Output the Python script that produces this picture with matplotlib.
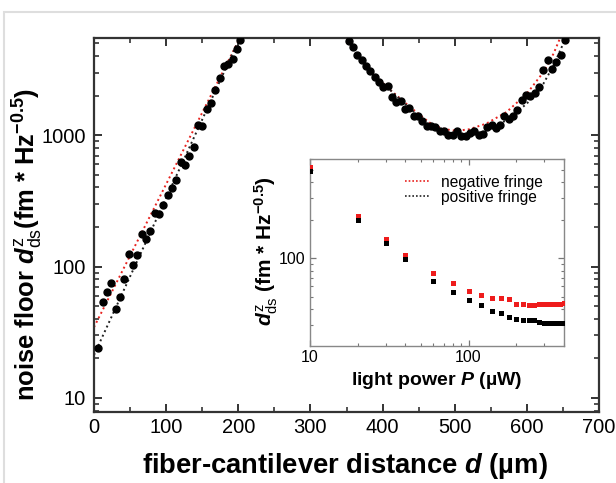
import matplotlib
matplotlib.use("Agg")
import matplotlib.pyplot as plt
from matplotlib.lines import Line2D
from matplotlib.patches import Rectangle
from matplotlib.ticker import LogLocator, NullFormatter, FixedLocator, FixedFormatter, MultipleLocator

plt.rcParams['font.family'] = ['Liberation Sans', 'DejaVu Sans']
plt.rcParams['mathtext.fontset'] = 'custom'
plt.rcParams['mathtext.rm'] = 'Liberation Sans'
plt.rcParams['mathtext.it'] = 'Liberation Sans:italic:bold'
plt.rcParams['mathtext.bf'] = 'Liberation Sans:bold'

# ---- noise floor vs fiber-cantilever distance (measured points) ----
d_left = [5, 12, 18, 24, 30, 36, 42, 48, 54, 60, 66, 72, 78, 84, 90, 96, 102, 108,
          114, 120, 126, 132, 138, 144, 150, 156, 162, 168, 174, 180, 186, 192, 198, 203]
nf_left = [23.9, 54.1, 64, 75.3, 47.5, 58.4, 80.4, 124, 102, 122, 178, 162, 185, 256,
           249, 292, 348, 397, 453, 624, 589, 692, 815, 1206, 1170, 1597, 1763, 2229,
           2730, 3350, 3510, 3830, 4560, 5350]

d_right = [353, 359, 365, 371, 377, 383, 389, 395, 401, 407, 413, 419, 425, 431, 437,
           443, 449, 455, 461, 467, 473, 479, 485, 491, 497, 503, 509, 515, 521, 527,
           533, 539, 545, 551, 557, 563, 569, 575, 581, 587, 593, 599, 605, 611, 617,
           623, 629, 635, 641, 647, 653]
nf_right = [5190, 4690, 4110, 3720, 3390, 3070, 2775, 2530, 2317, 2388, 1945, 1783, 1836,
            1585, 1613, 1412, 1412, 1277, 1185, 1185, 1157, 1086, 1086, 1000, 1000, 1072,
            983, 983, 1041, 1072, 1012, 1030, 1157, 1206, 1137, 1206, 1412, 1331, 1412,
            1549, 1866, 2040, 1980, 2100, 2330, 3160, 3720, 3190, 3590, 4110, 5350]

# ---- fitted curves (negative / positive fringe) ----
neg_left_d = [0, 205]
neg_left_v = [34.5, 5900]
pos_left_d = [0, 205]
pos_left_v = [21.2, 5980]

neg_right_d = [348, 364, 383, 406, 438, 455, 470, 487, 503, 520, 544, 572, 600, 623, 637, 649]
neg_right_v = [5700, 4180, 3120, 2330, 1642, 1380, 1191, 1110, 1079, 1110, 1227, 1504,
               2074, 3025, 4180, 6000]
pos_right_d = [348, 364, 383, 406, 438, 470, 490, 510, 530, 544, 572, 600, 623, 637, 657]
pos_right_v = [5700, 4180, 3120, 2330, 1600, 1116, 1028, 1000, 1020, 1085, 1302, 1741,
               2472, 3404, 6000]

# ---- inset: noise floor vs light power ----
power = [10, 20, 30, 40, 60, 80, 100, 120, 140, 160, 180, 200, 220, 240, 260, 280,
         300, 320, 340, 360, 380, 400]
nf_neg = [521, 216, 142, 107, 76, 64.4, 55.6, 51.7, 48.6, 48.6, 47.5, 43.6, 43.6, 42.6,
          42.6, 43.6, 43.6, 43.6, 43.6, 43.6, 43.6, 44.7]
nf_pos = [490, 200, 131, 99, 66.7, 54.6, 46.7, 42.8, 38.7, 36.9, 34.7, 33.4, 32.6, 32.6,
          32.6, 31.7, 30.7, 30.7, 30.7, 30.7, 30.7, 30.7]

W, H = 616, 483
fig = plt.figure(figsize=(W / 100, H / 100), dpi=100)

# light frame around the figure
fig.patches.append(Rectangle((4 / W, -0.1), 1.2, 1.1 - 12 / H, transform=fig.transFigure,
                             fill=False, edgecolor='#dedede', linewidth=1.5))

ax = fig.add_axes([94 / W, 1 - 412 / H, (599 - 94) / W, (412 - 38) / H])
dot = (0, (1, 1.6))
ax.plot(neg_left_d, neg_left_v, color='#e8231f', ls=dot, lw=1.4, zorder=2)
ax.plot(pos_left_d, pos_left_v, color='#222222', ls=dot, lw=1.4, zorder=2)
ax.plot(neg_right_d, neg_right_v, color='#e8231f', ls=dot, lw=1.4, zorder=2)
ax.plot(pos_right_d, pos_right_v, color='#222222', ls=dot, lw=1.4, zorder=2)
ax.plot(d_left, nf_left, 'o', color='black', ms=5, zorder=3)
ax.plot(d_right, nf_right, 'o', color='black', ms=5, zorder=3)

ax.set_yscale('log')
ax.set_xlim(0, 700)
ax.set_ylim(7.8, 5500)
ax.xaxis.set_major_locator(MultipleLocator(100))
ax.xaxis.set_minor_locator(MultipleLocator(50))
ax.yaxis.set_major_locator(FixedLocator([10, 100, 1000]))
ax.yaxis.set_major_formatter(FixedFormatter(['10', '100', '1000']))
ax.yaxis.set_minor_locator(LogLocator(base=10, subs=range(2, 10)))
ax.yaxis.set_minor_formatter(NullFormatter())
for s in ax.spines.values():
    s.set_linewidth(1.6)
    s.set_color('#333333')
ax.tick_params(which='both', direction='in', top=True, right=True, color='#333333')
ax.tick_params(which='major', length=6, width=1.4, labelsize=14.5, pad=4)
ax.tick_params(which='minor', length=3.5, width=1.2)
ax.tick_params(axis='y', which='major', pad=6)

ax.set_xlabel(r'fiber-cantilever distance $d$ (µm)', fontsize=19.7, fontweight='bold')
ax.xaxis.set_label_coords(0.497, -0.105)
ax.set_ylabel(r'noise floor $d^{\mathrm{z}}_{\mathrm{ds}}$(fm * Hz$^{\mathbf{-0.5}}$)',
              fontsize=18.4, fontweight='bold')
ax.yaxis.set_label_coords(-0.097, 0.449)

# inset
ins = fig.add_axes([310 / W, 1 - 346 / H, (564 - 310) / W, (346 - 159) / H])
ins.plot(power, nf_neg, 's', color='#ee1c1c', ms=3.6, mew=0, zorder=3)
ins.plot(power, nf_pos, 's', color='black', ms=3.6, mew=0, zorder=4)
ins.set_xscale('log')
ins.set_yscale('log')
ins.set_xlim(10, 400)
ins.set_ylim(20.4, 605)
ins.xaxis.set_major_locator(FixedLocator([10, 100]))
ins.xaxis.set_major_formatter(FixedFormatter(['10', '100']))
ins.xaxis.set_minor_locator(LogLocator(base=10, subs=range(2, 10)))
ins.xaxis.set_minor_formatter(NullFormatter())
ins.yaxis.set_major_locator(FixedLocator([100]))
ins.yaxis.set_major_formatter(FixedFormatter(['100']))
ins.yaxis.set_minor_locator(LogLocator(base=10, subs=range(2, 10)))
ins.yaxis.set_minor_formatter(NullFormatter())
for s in ins.spines.values():
    s.set_linewidth(1.0)
    s.set_color('#888888')
ins.tick_params(which='both', direction='in', top=True, right=True, color='#777777')
ins.tick_params(which='major', length=4, width=0.9, labelsize=11.5, pad=3)
ins.tick_params(which='minor', length=2.5, width=0.8)
ins.set_xlabel(r'light power $P$ (µW)', fontsize=14, fontweight='bold')
ins.xaxis.set_label_coords(0.5, -0.126)
ins.set_ylabel(r'$d^{\mathrm{z}}_{\mathrm{ds}}$ (fm * Hz$^{\mathbf{-0.5}}$)', fontsize=15,
               fontweight='bold')
ins.yaxis.set_label_coords(-0.118, 0.51)

handles = [Line2D([], [], color='#e8231f', ls=(0, (1, 1.2)), lw=1.2),
           Line2D([], [], color='#222222', ls=(0, (1, 1.2)), lw=1.2)]
ins.legend(handles, ['negative fringe', 'positive fringe'], loc='upper left',
           bbox_to_anchor=(0.374, 0.915), frameon=False, fontsize=11.2, handlelength=1.6,
           handletextpad=0.7, labelspacing=0.0, borderaxespad=0, borderpad=0)

fig.savefig('out.png', dpi=100)
